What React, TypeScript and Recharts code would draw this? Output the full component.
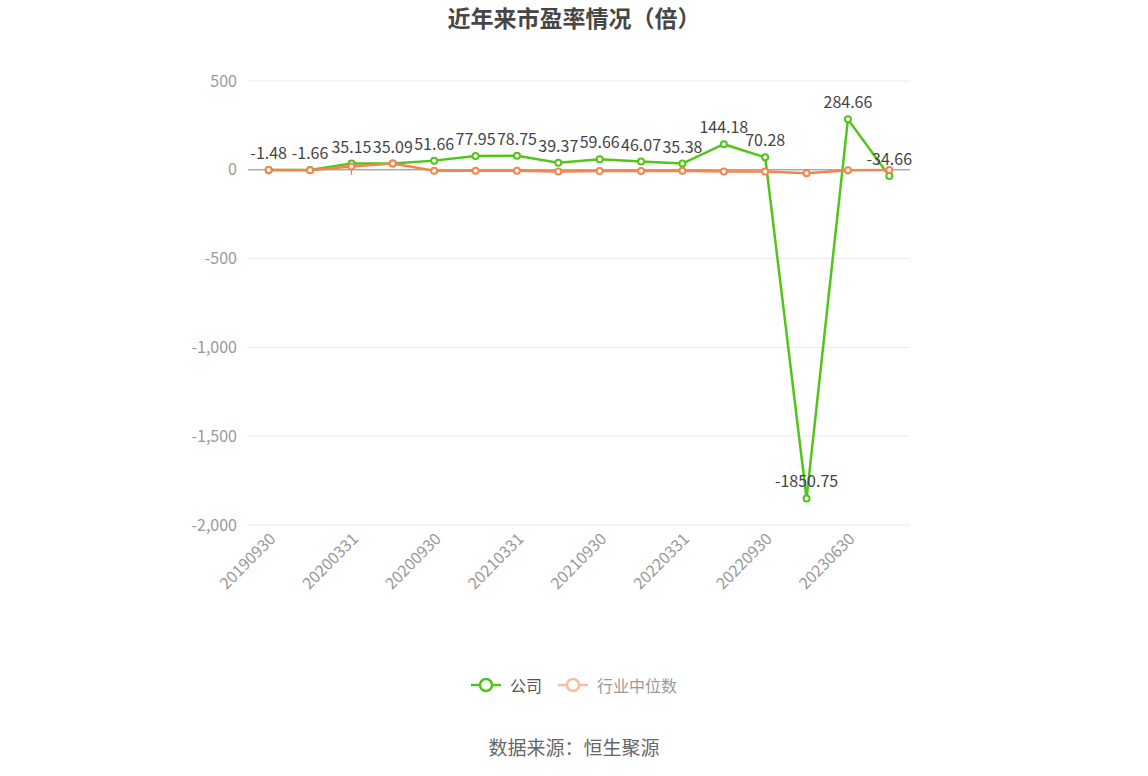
import React from 'react';
import { LineChart, Line, XAxis, YAxis, CartesianGrid, ReferenceLine, LabelList } from 'recharts';

const categories = ['20190930','20191231','20200331','20200630','20200930','20201231','20210331','20210630','20210930','20211231','20220331','20220630','20220930','20221231','20230630','20230930'];
const companyPE = [-1.48, -1.66, 35.15, 35.09, 51.66, 77.95, 78.75, 39.37, 59.66, 46.07, 35.38, 144.18, 70.28, -1850.75, 284.66, -34.66];
const industryPE = [-1, -2, 18, 36, -5, -5, -5, -10, -7, -7, -5, -9, -9, -19, -2, -1];
const yTicks = [500, 0, -500, -1000, -1500, -2000];

const GREEN = '#52c41a';
const ORANGE = '#f5844f';
const FONT = '"Noto Sans CJK SC", "Noto Sans", sans-serif';

const data = categories.map((c, i) => ({ date: c, company: companyPE[i], industry: industryPE[i] }));

const XTick = (props: any) => {
  const { x, y, payload } = props;
  const ax = x + 3;
  const ay = y + 2;
  return (
    <text x={ax} y={ay} transform={`rotate(-45, ${ax}, ${ay})`} textAnchor="end" dominantBaseline="central" fontSize={16} fill="#999" fontFamily={FONT}>
      {payload.value}
    </text>
  );
};

const fmt = (v: number) => v.toLocaleString('en-US');

export default function App() {
  return (
    <div style={{ position: 'absolute', left: 0, top: 0, width: 1148, height: 776, background: '#fff', fontFamily: FONT }}>
      <div style={{ position: 'absolute', top: 0, left: 0, width: 1148, textAlign: 'center', fontSize: 23, fontWeight: 'bold', color: '#464646' }}>
        近年来市盈率情况（倍）
      </div>
      <LineChart width={1148} height={776} data={data} margin={{ top: 81, right: 238, left: 0, bottom: 0 }}>
        <CartesianGrid vertical={false} stroke="#e6e9f0" />
        <XAxis dataKey="date" scale="band" interval={1} axisLine={false} tickLine={false} height={251} tick={<XTick />} />
        <YAxis domain={[-2000, 500]} ticks={yTicks} width={248} axisLine={false} tickLine={false} tickSize={0} tickMargin={11}
          tickFormatter={fmt} tick={{ fontSize: 16, fill: '#999', fontFamily: FONT }} />
        <ReferenceLine y={0} stroke="#8c8c8c" strokeWidth={1} />
        {categories.filter((_, i) => i % 2 === 0).map((c) => (
          <ReferenceLine key={c} segment={[{ x: c, y: 0 }, { x: c, y: -28 }]} stroke="#8c8c8c" ifOverflow="visible" />
        ))}
        <Line type="linear" dataKey="company" stroke={GREEN} strokeWidth={2.5} isAnimationActive={false}
          dot={{ r: 3, fill: '#fff', stroke: GREEN, strokeWidth: 2 }}>
          <LabelList dataKey="company" position="top" offset={11} fontSize={16} fill="#444" fontFamily={FONT} />
        </Line>
        <Line type="linear" dataKey="industry" stroke={ORANGE} strokeWidth={2.5} isAnimationActive={false}
          dot={{ r: 3, fill: '#fff', stroke: ORANGE, strokeWidth: 2 }} />
      </LineChart>
      <div style={{ position: 'absolute', top: 673, left: 0, width: 1148, display: 'flex', justifyContent: 'center', alignItems: 'center', fontSize: 16 }}>
        <svg width={30} height={20} style={{ marginRight: 9 }}>
          <line x1={0} y1={10} x2={30} y2={10} stroke={GREEN} strokeWidth={2.5} />
          <circle cx={15} cy={10} r={6} fill="#fff" stroke={GREEN} strokeWidth={2.5} />
        </svg>
        <span style={{ color: '#555', marginRight: 16 }}>公司</span>
        <svg width={30} height={20} style={{ marginRight: 9 }}>
          <line x1={0} y1={10} x2={30} y2={10} stroke="#f9bca2" strokeWidth={2.5} />
          <circle cx={15} cy={10} r={6} fill="#fff" stroke="#f9bca2" strokeWidth={2.5} />
        </svg>
        <span style={{ color: '#999' }}>行业中位数</span>
      </div>
      <div style={{ position: 'absolute', top: 733, left: 0, width: 1148, textAlign: 'center', fontSize: 19, color: '#666' }}>
        数据来源：恒生聚源
      </div>
    </div>
  );
}
